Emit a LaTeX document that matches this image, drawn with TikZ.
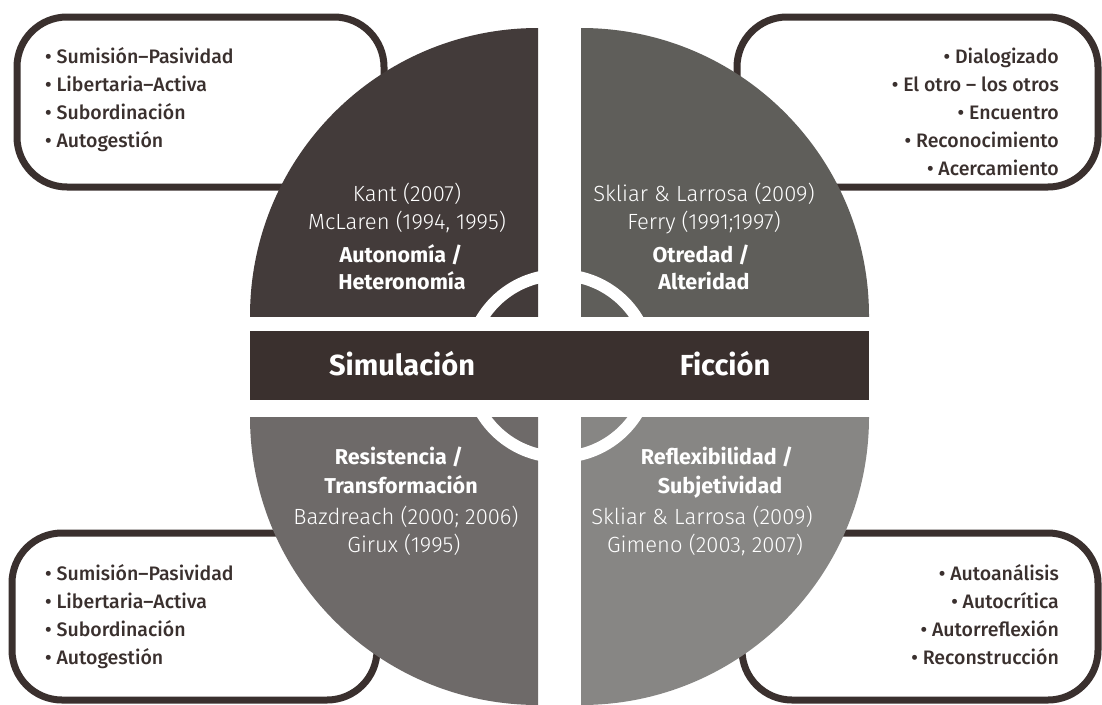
\documentclass[tikz,border=0pt]{standalone}
\usepackage{fontspec}
\setmainfont{Fira Sans}
\newfontfamily\lightfont{Fira Sans Light}
\newfontfamily\mediumfont{Fira Sans Medium}
\definecolor{ink}{HTML}{3A302E}
\definecolor{qtl}{HTML}{433B3A}
\definecolor{qtr}{HTML}{5F5E5A}
\definecolor{qbl}{HTML}{6E6A69}
\definecolor{qbr}{HTML}{878684}

\begin{document}
\begin{tikzpicture}[x=1pt, y=-1pt,
  listbox/.style={draw=ink, fill=white, line width=7pt, rounded corners=50pt},
  item/.style={inner sep=0pt, text=ink, font=\mediumfont\fontsize{19.5}{24}\selectfont},
  cite/.style={inner sep=0pt, text=white, font=\lightfont\fontsize{22}{26}\selectfont},
  topic/.style={inner sep=0pt, text=white, font=\bfseries\fontsize{21.5}{26}\selectfont},
  bandlabel/.style={inner sep=0pt, text=white, font=\bfseries\fontsize{29}{34}\selectfont}]
\useasboundingbox (0,0) rectangle (1102,704);
%\draw[help lines, color=gray!30] (0,0) grid[step=50] (1102,704);

% list boxes, behind the circle
\filldraw[listbox] (17,17) rectangle (384,187);
\filldraw[listbox] (737,17) rectangle (1098,187);
\filldraw[listbox] (12,533) rectangle (377,700);
\filldraw[listbox] (742,533) rectangle (1098,700);

% four quarters
\begin{scope}
\clip (250,28) rectangle (538,316);
\fill[qtl] (538,316) circle (288);
\end{scope}
\begin{scope}
\clip (581,28) rectangle (869,316);
\fill[qtr] (581,316) circle (288);
\end{scope}
\begin{scope}
\clip (250,417) rectangle (538,705);
\fill[qbl] (538,417) circle (288);
\end{scope}
\begin{scope}
\clip (581,417) rectangle (869,705);
\fill[qbr] (581,417) circle (288);
\end{scope}

% inner ring and band
\draw[white, line width=12pt] (559.5,366) circle (91);
\fill[ink] (250,331) rectangle (869,400);
\node[bandlabel, anchor=base] (sim) at (402,375.5) {Simulación};
\node[bandlabel, anchor=base] (fic) at (725,375.5) {Ficción};

% top left
\node[cite, anchor=base] (kant) at (407,201.5) {Kant (2007)};
\node[cite, anchor=base] (mclaren) at (407,229.5) {McLaren (1994, 1995)};
\node[topic, anchor=base] (auto1) at (401,262) {Autonomía /};
\node[topic, anchor=base] (auto2) at (402,289.5) {Heteronomía};

% top right
\node[cite, anchor=base] (skliar1) at (704,201.5) {Skliar \& Larrosa (2009)};
\node[cite, anchor=base] (ferry) at (704,229.5) {Ferry (1991;1997)};
\node[topic, anchor=base] (otre1) at (701,262) {Otredad /};
\node[topic, anchor=base] (otre2) at (704,289.5) {Alteridad};

% bottom left
\node[topic, anchor=base] (resi1) at (399,464) {Resistencia /};
\node[topic, anchor=base] (resi2) at (401,493) {Transformación};
\node[cite, anchor=base] (bazd) at (406,524) {Bazdreach (2000; 2006)};
\node[cite, anchor=base] (girux) at (404,552) {Girux (1995)};

% bottom right
\node[topic, anchor=base] (refl1) at (717,464) {Reflexibilidad /};
\node[topic, anchor=base] (refl2) at (720,493) {Subjetividad};
\node[cite, anchor=base] (skliar2) at (702,524) {Skliar \& Larrosa (2009)};
\node[cite, anchor=base] (gimeno) at (705,552) {Gimeno (2003, 2007)};

% lists
\foreach \txt [count=\i] in {{• Sumisión–Pasividad}, {• Libertaria–Activa}, {• Subordinación}, {• Autogestión}}
  \node[item, anchor=base west] (auto\i) at (45,{35+28*\i}) {\txt};
\foreach \txt [count=\i] in {{• Dialogizado}, {• El otro – los otros}, {• Encuentro}, {• Reconocimiento}, {• Acercamiento}}
  \node[item, anchor=base east] (otro\i) at (1059,{35+28*\i}) {\txt};
\foreach \txt [count=\i] in {{• Sumisión–Pasividad}, {• Libertaria–Activa}, {• Subordinación}, {• Autogestión}}
  \node[item, anchor=base west] (resis\i) at (45,{552.5+28*\i}) {\txt};
\foreach \txt [count=\i] in {{• Autoanálisis}, {• Autocrítica}, {• Autorreflexión}, {• Reconstrucción}}
  \node[item, anchor=base east] (refle\i) at (1059,{552+28*\i}) {\txt};

\end{tikzpicture}
\end{document}
